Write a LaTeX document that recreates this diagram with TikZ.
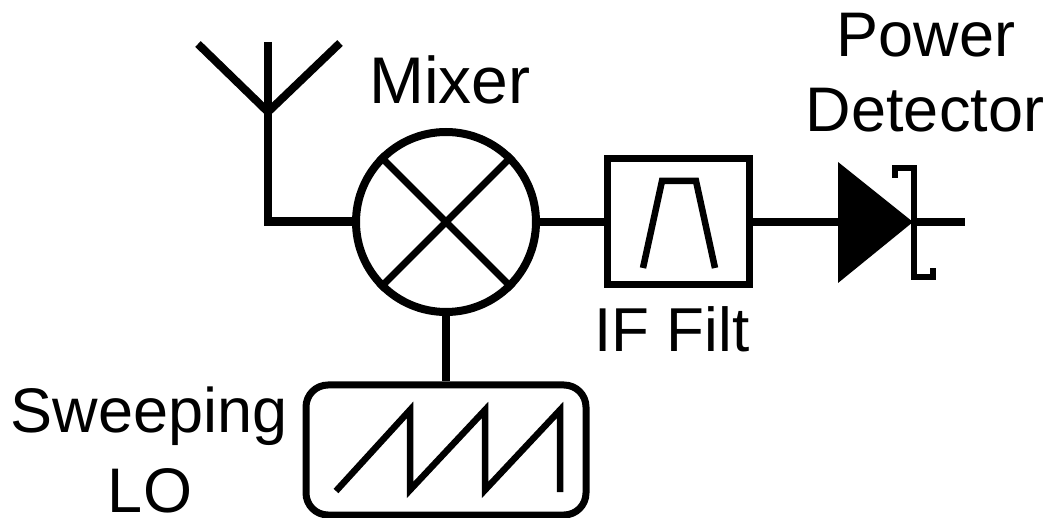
\documentclass[tikz,border=0pt]{standalone}
\usepackage{fontspec}
\setmainfont{Liberation Sans}
\usetikzlibrary{shapes.misc}
\tikzset{x=1pt,y=-1pt,
 lbl/.style={inner sep=0pt,font=\fontsize{#1}{#1}\selectfont,text=black},
 lbl/.default=63,
 wire/.style={line width=8pt,draw=black},
 sym/.style={line width=6.5pt,draw=black,miter limit=20},
}
\begin{document}
\begin{tikzpicture}
\useasboundingbox (0,0) rectangle (1055,518);
\node[circle,draw,line width=8pt,minimum size=180pt,inner sep=0pt] (mixer) at (446,222) {};
\node[rectangle,draw,line width=7pt,minimum width=142pt,minimum height=126pt,inner sep=0pt] (filt) at (678,222) {};
\node[rectangle,rounded corners=22pt,draw,line width=7pt,minimum width=280pt,minimum height=130pt,inner sep=0pt] (lo) at (446,450) {};
\coordinate (ant) at (268,112);
\coordinate (antc) at (268,222);
\coordinate (out) at (965,222);
\coordinate (dtip) at (914,222);
\coordinate (din) at (838,222);
% antenna
\draw[wire] (268,42) -- (ant);
\draw[wire] (198,44) -- (ant) -- (340,43);
\draw[wire,line cap=rect] (ant) -- (antc);
\draw[line width=9pt] (antc) ++(-4,0) -- (mixer.west);
% mixer cross
\draw[line width=7pt] (mixer.north west) -- (mixer.south east);
\draw[line width=7pt] (mixer.north east) -- (mixer.south west);
\draw[wire] (mixer.east) -- (filt.west);
\draw[wire] (mixer.south) -- (lo.north);
\draw[wire] (filt.east) -- (din);
\draw[wire] (dtip) -- (out);
% filter symbol
\draw[sym,line join=miter] (643,268) -- (662,181) -- (696,181) -- (715,268);
% diode
\fill[black] (838,162) -- (838,283) -- (913,222) -- cycle;
\draw[sym,line join=miter] (895,178) -- (895,168) -- (914,168) -- (914,277) -- (933,277) -- (933,268);
% sawtooth
\draw[sym,line join=miter] (336,491) -- (410,410) -- (410,490) -- (485,410) -- (485,490) -- (560,410) -- (560,492);
% labels
\node[lbl=66] (tmix) at (450,80) {Mixer};
\node[lbl] (tpow) at (926,35) {Power};
\node[lbl] (tdet) at (925,110) {Detector};
\node[lbl=62] (tif) at (672,329) {IF Filt};
\node[lbl] (tswp) at (149,416) {Sweeping};
\node[lbl] (tlo) at (150,491) {LO};
\end{tikzpicture}
\end{document}
